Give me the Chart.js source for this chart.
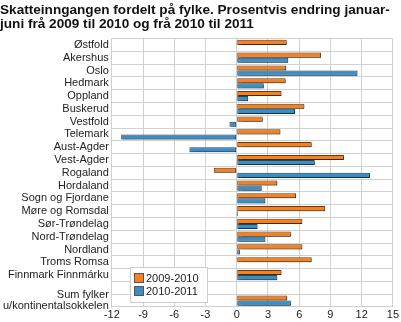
<!DOCTYPE html>
<html><head><meta charset="utf-8">
<script src="https://cdn.jsdelivr.net/npm/chart.js@4"></script>
<style>html,body{margin:0;padding:0;background:#fff}#wrap{width:401px;height:322px}</style>
</head><body><div id="wrap"><canvas id="c" width="401" height="322"></canvas></div>
<script>
const titleLines = ["Skatteinngangen fordelt på fylke. Prosentvis endring januar-", "juni frå 2009 til 2010 og frå 2010 til 2011"];
const categories = ["Østfold","Akershus","Oslo","Hedmark","Oppland","Buskerud","Vestfold","Telemark","Aust-Agder","Vest-Agder","Rogaland","Hordaland","Sogn og Fjordane","Møre og Romsdal","Sør-Trøndelag","Nord-Trøndelag","Nordland","Troms Romsa","Finnmark Finnmárku","",["Sum fylker","u/kontinentalsokkelen"]];
const seriesNames = ["2009-2010","2010-2011"];
const values2009_2010 = [4.8,8.1,4.75,4.7,4.3,6.5,2.5,4.2,7.2,10.3,-2.2,3.9,5.7,8.5,6.3,5.2,6.3,7.2,4.3,null,4.85];
const values2010_2011 = [null,4.95,11.6,2.6,1.1,5.6,-0.7,-11.1,-4.55,7.5,12.8,2.4,2.75,0.13,2.0,2.75,0.3,0.05,3.9,null,5.2];
const xTicks = [-12,-9,-6,-3,0,3,6,9,12,15];

const colors = ["#f5821f","#3a8dc6"];
const borders = ["#6b3a12","#1e4a68"];
const FONT = '"Liberation Sans", Arial, sans-serif';

const shadowPlugin = {
  id:'shadow',
  beforeDatasetDraw(chart){const c=chart.ctx;c.save();c.shadowColor='rgba(0,0,0,0.35)';c.shadowOffsetX=1;c.shadowOffsetY=1;c.shadowBlur=1;},
  afterDatasetDraw(chart){chart.ctx.restore();}
};
const legendBox = {
  id:'legendBox',
  afterDatasetsDraw(chart){
    const c=chart.ctx, a=chart.chartArea;
    const x=Math.round(a.left)+18, y=Math.round(a.bottom)-40, w=77, h=35;
    c.save();
    c.fillStyle='#fff';c.fillRect(x,y,w,h);
    c.strokeStyle='#cccccc';c.lineWidth=1;c.strokeRect(x+0.5,y+0.5,w,h);
    c.font='11px '+FONT;c.textBaseline='middle';c.textAlign='left';
    chart.data.datasets.forEach((d,i)=>{
      const yy=y+11+i*13;
      c.fillStyle=d.backgroundColor;c.fillRect(x+4,yy-5,10,10);
      c.strokeStyle='#555';c.strokeRect(x+4.5,yy-4.5,9,9);
      c.fillStyle='#222';c.fillText(d.label,x+16,yy+1);
    });
    c.restore();
  }
};

new Chart(document.getElementById('c'),{
  type:'bar',
  data:{labels:categories,datasets:[
    {label:seriesNames[0],data:values2009_2010,backgroundColor:colors[0],borderColor:borders[0],borderWidth:1,borderSkipped:false},
    {label:seriesNames[1],data:values2010_2011,backgroundColor:colors[1],borderColor:borders[1],borderWidth:1,borderSkipped:false}
  ]},
  options:{
    responsive:false,animation:false,indexAxis:'y',
    layout:{padding:{left:0,right:2,top:0,bottom:0}},
    plugins:{
      legend:{display:false},tooltip:{enabled:false},
      title:{display:true,text:titleLines,align:'start',color:'#111',
        font:{family:FONT,size:13.6,weight:'bold',lineHeight:1.05},
        padding:{top:3,bottom:7}}
    },
    datasets:{bar:{categoryPercentage:0.8,barPercentage:1}},
    scales:{
      x:{min:-12,max:15,afterBuildTicks(s){s.ticks=xTicks.map(v=>({value:v}));},
        grid:{color:'#d0d0d0',lineWidth:1,drawTicks:false},border:{display:false},
        ticks:{color:'#222',padding:2,font:{family:FONT,size:11,lineHeight:1.0}}},
      y:{grid:{color:'#d0d0d0',lineWidth:1,offset:true,drawTicks:false},border:{color:'#d0d0d0'},
        ticks:{color:'#222',padding:3,autoSkip:false,font:{family:FONT,size:11,lineHeight:1.0}}}
    }
  },
  plugins:[shadowPlugin,legendBox]
});
</script></body></html>
